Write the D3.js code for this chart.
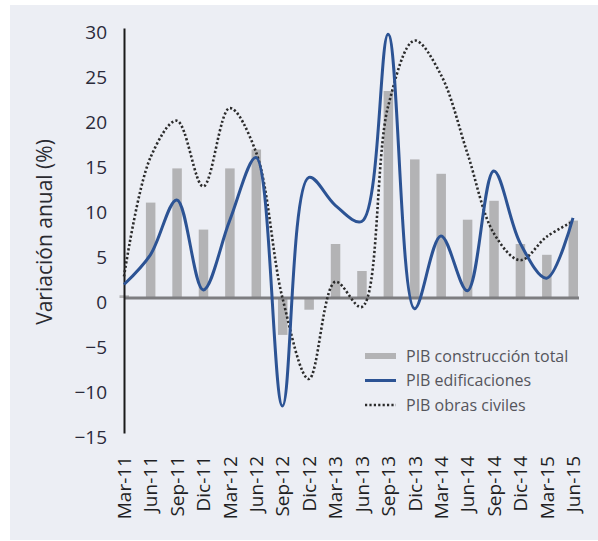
<!DOCTYPE html>
<html>
<head>
<meta charset="utf-8">
<script src="https://cdn.jsdelivr.net/npm/d3@7/dist/d3.min.js"></script>
<style>
  body { margin: 0; background: #ffffff; }
  svg { display: block; }
</style>
</head>
<body>
<div id="chart"></div>
<script>
// categories (quarters)
var categories = ["Mar-11", "Jun-11", "Sep-11", "Dic-11", "Mar-12", "Jun-12", "Sep-12", "Dic-12",
  "Mar-13", "Jun-13", "Sep-13", "Dic-13", "Mar-14", "Jun-14", "Sep-14", "Dic-14", "Mar-15", "Jun-15"];

// PIB construcción total (bars)
var construccionTotal = [0.3, 10.6, 14.4, 7.6, 14.4, 16.5, -4.1, -1.3, 6.0, 3.0, 23.0, 15.4, 13.8, 8.7, 10.8, 6.0, 4.8, 8.6];

// PIB edificaciones (solid line)
var edificaciones = [1.5, 4.8, 10.9, 0.9, 8.6, 15.6, -12.0, 13.4, 10.3, 8.5, 29.3, -1.2, 6.9, 0.8, 14.1, 6.1, 2.2, 8.9];

// PIB obras civiles (dotted line)
var obrasCiviles = [2.4, 15.6, 19.7, 12.4, 21.1, 16.2, 0.0, -9.0, 1.8, -1.0, 21.3, 28.6, 24.8, 16.1, 7.2, 4.2, 6.8, 8.5];

var yTicks = [-15, -10, -5, 0, 5, 10, 15, 20, 25, 30];

var legendItems = ["PIB construcción total", "PIB edificaciones", "PIB obras civiles"];

var W = 598, H = 541;
var font = "'Open Sans', 'Noto Sans', sans-serif";

var svg = d3.select("#chart").append("svg")
  .attr("width", W)
  .attr("height", H);

// panel background
svg.append("rect")
  .attr("x", 10).attr("y", 5)
  .attr("width", W - 10).attr("height", 535)
  .attr("fill", "#eceef4");

var x = d3.scalePoint().domain(categories).range([124, 573]);
var y = d3.scaleLinear().domain([-15, 30]).range([433, 28]);

// bars
svg.append("g").selectAll("rect")
  .data(construccionTotal)
  .enter().append("rect")
  .attr("x", function(d, i) { return x(categories[i]) - 4.5; })
  .attr("width", 9.5)
  .attr("y", function(d) { return y(Math.max(0, d)); })
  .attr("height", function(d) { return Math.abs(y(d) - y(0)); })
  .attr("fill", "#b3b3b5");

// zero line
svg.append("line")
  .attr("x1", x(categories[0])).attr("x2", 579)
  .attr("y1", y(0)).attr("y2", y(0))
  .attr("stroke", "#7d7d80").attr("stroke-width", 3);

// y axis
var yAxis = d3.axisLeft(y).tickValues(yTicks).tickSize(0).tickPadding(17);
var gy = svg.append("g")
  .attr("transform", "translate(" + x(categories[0]) + ",0)")
  .call(yAxis);
gy.select(".domain").attr("stroke", "#1a1a1a").attr("stroke-width", 2);
gy.selectAll("text")
  .attr("font-family", font)
  .attr("font-size", 19)
  .attr("fill", "#2a2a3a")
  .attr("dy", "0.55em");

// lines
var line = function(vals) {
  return d3.line()
    .x(function(d, i) { return x(categories[i]); })
    .y(function(d) { return y(d); })
    .curve(d3.curveCatmullRom.alpha(0.5))(vals);
};

svg.append("path")
  .attr("d", line(obrasCiviles))
  .attr("fill", "none")
  .attr("stroke", "#2b2b2b")
  .attr("stroke-width", 2.6)
  .attr("stroke-dasharray", "2.2,2.2");

svg.append("path")
  .attr("d", line(edificaciones))
  .attr("fill", "none")
  .attr("stroke", "#2c5394")
  .attr("stroke-width", 3);

// x labels
svg.append("g").selectAll("text")
  .data(categories)
  .enter().append("text")
  .attr("transform", function(d) { return "translate(" + (x(d) + 7) + ",456) rotate(-90)"; })
  .attr("text-anchor", "end")
  .attr("font-family", font)
  .attr("font-size", 19)
  .attr("fill", "#1f1f24")
  .text(function(d) { return d; });

// y title
svg.append("text")
  .attr("transform", "translate(52,232) rotate(-90)")
  .attr("text-anchor", "middle")
  .attr("font-family", font)
  .attr("font-size", 21)
  .attr("fill", "#2a2a30")
  .text("Variación anual (%)");

// legend
var lg = svg.append("g").attr("transform", "translate(365,356)");
legendItems.forEach(function(name, i) {
  var yy = i * 24.5;
  var sw = lg.append("line")
    .attr("x1", 0).attr("x2", 31)
    .attr("y1", yy).attr("y2", yy);
  if (i === 0) sw.attr("stroke", "#b3b3b5").attr("stroke-width", 6);
  if (i === 1) sw.attr("stroke", "#2c5394").attr("stroke-width", 3);
  if (i === 2) sw.attr("stroke", "#2b2b2b").attr("stroke-width", 2.4).attr("stroke-dasharray", "2.2,2.2");
  lg.append("text")
    .attr("x", 41).attr("y", yy)
    .attr("dy", "0.35em")
    .attr("font-family", font)
    .attr("font-size", 16)
    .attr("fill", "#55555c")
    .text(name);
});
</script>
</body>
</html>
